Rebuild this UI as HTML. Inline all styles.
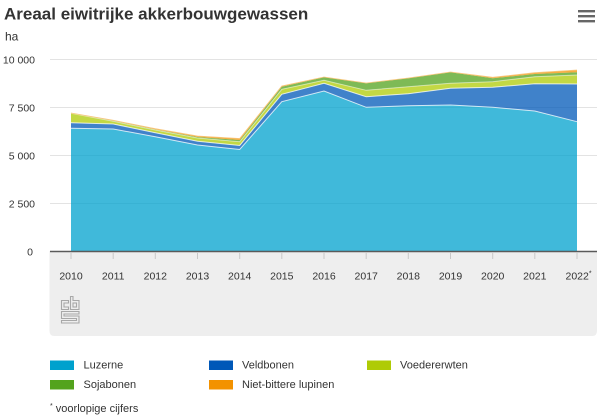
<!DOCTYPE html>
<html>
<head>
<meta charset="utf-8">
<style>
  html, body { margin: 0; padding: 0; background: #fff; }
  body { width: 600px; height: 417px; overflow: hidden; font-family: "Liberation Sans", sans-serif; }
  svg { display: block; }
  text { font-family: "Liberation Sans", sans-serif; fill: #333; }
</style>
</head>
<body>
<svg width="600" height="417" viewBox="0 0 600 417" xmlns="http://www.w3.org/2000/svg">
  <rect width="600" height="417" fill="#fff"/>

  <!-- Title -->
  <text x="4" y="19.5" font-size="17" font-weight="bold" fill="#222">Areaal eiwitrijke akkerbouwgewassen</text>
  <!-- Menu icon -->
  <rect x="578" y="10" width="17" height="2.4" fill="#666"/>
  <rect x="578" y="15" width="17" height="2.4" fill="#666"/>
  <rect x="578" y="20" width="17" height="2.4" fill="#666"/>

  <!-- unit -->
  <text x="5" y="40.5" font-size="12">ha</text>

  <!-- gray x-axis panel -->
  <path d="M49.5 251 H597 V331 Q597 336 592 336 H54.5 Q49.5 336 49.5 331 Z" fill="#eeeeee"/>

  <!-- gridlines -->
  <g stroke="#e3e3e3" stroke-width="1">
    <line x1="50" y1="59.5" x2="597" y2="59.5"/>
    <line x1="50" y1="107.5" x2="597" y2="107.5"/>
    <line x1="50" y1="155.5" x2="597" y2="155.5"/>
    <line x1="50" y1="203.5" x2="597" y2="203.5"/>
  </g>

  <!-- y labels -->
  <g font-size="10.5" text-anchor="end">
    <text x="35" y="63.5">10 000</text>
    <text x="35" y="111.3">7 500</text>
    <text x="35" y="159.3">5 000</text>
    <text x="35" y="207.3">2 500</text>
    <text x="33" y="255.3">0</text>
  </g>

  <!-- areas -->
  <g fill-opacity="0.75">
    <!-- Luzerne -->
    <path fill="#00a1cd" d="M71,128.3 L113.2,129 L155.3,136.7 L197.5,145 L239.7,149.5 L281.8,101.7 L324,91 L366.2,107.3 L408.3,105.7 L450.5,105 L492.7,107.3 L534.8,111 L577,121.7 L577,251 L71,251 Z"/>
    <!-- Veldbonen -->
    <path fill="#0058b8" d="M71,122.7 L113.2,124 L155.3,132.7 L197.5,141.3 L239.7,145.5 L281.8,94.3 L324,83.3 L366.2,96.7 L408.3,93.7 L450.5,88.3 L492.7,87.3 L534.8,83.7 L577,84 L577,121.7 L534.8,111 L492.7,107.3 L450.5,105 L408.3,105.7 L366.2,107.3 L324,91 L281.8,101.7 L239.7,149.5 L197.5,145 L155.3,136.7 L113.2,129 L71,128.3 Z"/>
    <!-- Voedererwten -->
    <path fill="#afcb05" d="M71,113.3 L113.2,121.3 L155.3,130 L197.5,138 L239.7,141.7 L281.8,89.3 L324,80.3 L366.2,90.3 L408.3,86.7 L450.5,83.3 L492.7,81.7 L534.8,76.7 L577,75 L577,84 L534.8,83.7 L492.7,87.3 L450.5,88.3 L408.3,93.7 L366.2,96.7 L324,83.3 L281.8,94.3 L239.7,145.5 L197.5,141.3 L155.3,132.7 L113.2,124 L71,122.7 Z"/>
    <!-- Sojabonen -->
    <path fill="#53a31d" d="M71,113.3 L113.2,120.8 L155.3,129.5 L197.5,137 L239.7,140 L281.8,86.7 L324,77.3 L366.2,83.3 L408.3,78.3 L450.5,72.3 L492.7,78.3 L534.8,74 L577,72.3 L577,75 L534.8,76.7 L492.7,81.7 L450.5,83.3 L408.3,86.7 L366.2,90.3 L324,80.3 L281.8,89.3 L239.7,141.7 L197.5,138 L155.3,130 L113.2,121.3 L71,113.3 Z"/>
    <!-- Niet-bittere lupinen -->
    <path fill="#f39200" d="M71,113 L113.2,120.3 L155.3,128.7 L197.5,136 L239.7,138.5 L281.8,86 L324,77 L366.2,83 L408.3,78 L450.5,72 L492.7,77.3 L534.8,72.7 L577,70 L577,72.3 L534.8,74 L492.7,78.3 L450.5,72.3 L408.3,78.3 L366.2,83.3 L324,77.3 L281.8,86.7 L239.7,140 L197.5,137 L155.3,129.5 L113.2,120.8 L71,113.3 Z"/>
  </g>
  <!-- separator lines -->
  <g fill="none" stroke="#ffffff" stroke-opacity="0.75" stroke-width="1">
    <polyline points="71,128.3 113.2,129 155.3,136.7 197.5,145 239.7,149.5 281.8,101.7 324,91 366.2,107.3 408.3,105.7 450.5,105 492.7,107.3 534.8,111 577,121.7"/>
    <polyline points="71,122.7 113.2,124 155.3,132.7 197.5,141.3 239.7,145.5 281.8,94.3 324,83.3 366.2,96.7 408.3,93.7 450.5,88.3 492.7,87.3 534.8,83.7 577,84"/>
    <polyline points="71,113.3 113.2,121.3 155.3,130 197.5,138 239.7,141.7 281.8,89.3 324,80.3 366.2,90.3 408.3,86.7 450.5,83.3 492.7,81.7 534.8,76.7 577,75" stroke-opacity="0.5"/>
  </g>
  <polyline fill="none" stroke="#f7c77e" stroke-width="0.8" points="71,113 113.2,120.3 155.3,128.7 197.5,136 239.7,138.5 281.8,86 324,77 366.2,83 408.3,78 450.5,72 492.7,77.3 534.8,72.7 577,70"/>

  <!-- axis line -->
  <line x1="50" y1="251.5" x2="597" y2="251.5" stroke="#5a5a5a" stroke-width="1.5"/>
  <!-- ticks -->
  <g stroke="#c8c8c8" stroke-width="1">
    <line x1="71" y1="252" x2="71" y2="259"/>
    <line x1="113.2" y1="252" x2="113.2" y2="259"/>
    <line x1="155.3" y1="252" x2="155.3" y2="259"/>
    <line x1="197.5" y1="252" x2="197.5" y2="259"/>
    <line x1="239.7" y1="252" x2="239.7" y2="259"/>
    <line x1="281.8" y1="252" x2="281.8" y2="259"/>
    <line x1="324" y1="252" x2="324" y2="259"/>
    <line x1="366.2" y1="252" x2="366.2" y2="259"/>
    <line x1="408.3" y1="252" x2="408.3" y2="259"/>
    <line x1="450.5" y1="252" x2="450.5" y2="259"/>
    <line x1="492.7" y1="252" x2="492.7" y2="259"/>
    <line x1="534.8" y1="252" x2="534.8" y2="259"/>
    <line x1="577" y1="252" x2="577" y2="259"/>
  </g>

  <!-- x labels -->
  <g font-size="10.5" text-anchor="middle">
    <text x="71" y="279.5">2010</text>
    <text x="113.2" y="279.5">2011</text>
    <text x="155.3" y="279.5">2012</text>
    <text x="197.5" y="279.5">2013</text>
    <text x="239.7" y="279.5">2014</text>
    <text x="281.8" y="279.5">2015</text>
    <text x="324" y="279.5">2016</text>
    <text x="366.2" y="279.5">2017</text>
    <text x="408.3" y="279.5">2018</text>
    <text x="450.5" y="279.5">2019</text>
    <text x="492.7" y="279.5">2020</text>
    <text x="534.8" y="279.5">2021</text>
  </g>
  <text x="565.5" y="279.5" font-size="10.5">2022<tspan font-size="7" dy="-4">*</tspan></text>

  <!-- CBS logo -->
  <g fill="none" stroke="#a8a8a8" stroke-width="1.1">
    <path d="M68.5,300.5 H61.5 V309.5 H68.5 V307 H64 V303 H68.5 Z"/>
    <path d="M70.5,296.5 H73 V300.5 H79 V309.5 H70.5 Z"/>
    <rect x="73" y="303" width="3.5" height="4" />
    <path d="M61.5,311.5 H79 V314 H64 V316 H79 V323 H61.5 V320.5 H76.5 V318.5 H61.5 Z"/>
  </g>

  <!-- legend -->
  <rect x="50" y="360.5" width="24" height="9.5" fill="#00a1cd"/>
  <text x="83.5" y="368.7" font-size="11">Luzerne</text>
  <rect x="50" y="380" width="24" height="9.5" fill="#53a31d"/>
  <text x="83.5" y="388.2" font-size="11">Sojabonen</text>

  <rect x="209" y="360.5" width="24" height="9.5" fill="#0058b8"/>
  <text x="242" y="368.7" font-size="11">Veldbonen</text>
  <rect x="209" y="380" width="24" height="9.5" fill="#f39200"/>
  <text x="242" y="388.2" font-size="11">Niet-bittere lupinen</text>

  <rect x="367" y="360.5" width="24" height="9.5" fill="#afcb05"/>
  <text x="400" y="368.7" font-size="11">Voedererwten</text>

  <text x="50" y="412" font-size="11"><tspan font-size="7" dy="-4">*</tspan><tspan dy="4"> voorlopige cijfers</tspan></text>
</svg>
</body>
</html>
